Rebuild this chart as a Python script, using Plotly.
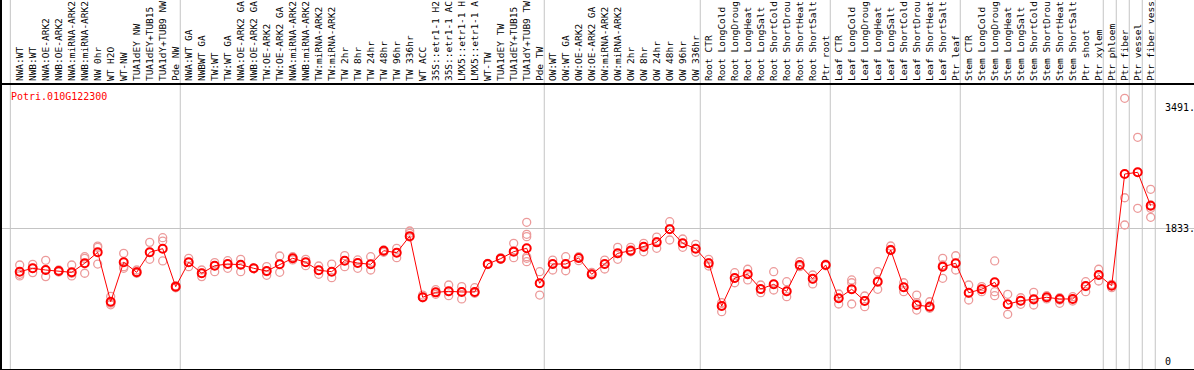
import plotly.graph_objects as go

GENE = "Potri.010G122300"

# sample labels by group (as far as they are readable in the header)
grp_nw = ["NWA:WT", "NWB:WT", "NWA:OE-ARK2", "NWB:OE-ARK2", "NWA:miRNA-ARK2", "NWB:miRNA-ARK2",
          "NW 0hr", "WT H2O", "WT-NW", "TUA1dEY NW", "TUA1dEY+TUB15", "TUA1dY+TUB9 NW", "Pde NW"]
grp_tw = ["NWA:WT GA", "NWBWT GA", "TW:WT", "TW:WT GA", "NWA:OE-ARK2 GA", "NWB:OE-ARK2 GA",
          "TW:OE-ARK2", "TW:OE-ARK2 GA", "NWA:miRNA-ARK2", "NWB:miRNA-ARK2", "TW:miRNA-ARK2",
          "TW:miRNA-ARK2", "TW 2hr", "TW 8hr", "TW 24hr", "TW 48hr", "TW 96hr", "TW 336hr", "WT ACC",
          "35S::etr1-1 H2", "35S::etr1-1 AC", "LMX5::etr1-1 H", "LMX5::etr1-1 A", "WT-TW",
          "TUA1dEY TW", "TUA1dEY+TUB15", "TUA1dY+TUB9 TW", "Pde TW"]
grp_ow = ["OW:WT", "OW:WT GA", "OW:OE-ARK2", "OW:OE-ARK2 GA", "OW:miRNA-ARK2", "OW:miRNA-ARK2",
          "OW 2hr", "OW 8hr", "OW 24hr", "OW 48hr", "OW 96hr", "OW 336hr"]
grp_root = ["Root CTR", "Root LongCold", "Root LongDroug", "Root LongHeat", "Root LongSalt",
            "Root ShortCold", "Root ShortDrou", "Root ShortHeat", "Root ShortSalt", "Ptr root"]
grp_leaf = ["Leaf CTR", "Leaf LongCold", "Leaf LongDroug", "Leaf LongHeat", "Leaf LongSalt",
            "Leaf ShortCold", "Leaf ShortDrou", "Leaf ShortHeat", "Leaf ShortSalt", "Ptr leaf"]
grp_stem = ["Stem CTR", "Stem LongCold", "Stem LongDroug", "Stem LongHeat", "Stem LongSalt",
            "Stem ShortCold", "Stem ShortDrou", "Stem ShortHeat", "Stem ShortSalt", "Ptr shoot", "Ptr xylem"]
grp_phloem = ["Ptr phloem"]
grp_fiber = ["Ptr fiber"]
grp_vessel = ["Ptr vessel"]
grp_fvessel = ["Ptr fiber vess"]

groups = [grp_nw, grp_tw, grp_ow, grp_root, grp_leaf, grp_stem, grp_phloem, grp_fiber, grp_vessel, grp_fvessel]

# mean expression per sample
mean_nw = [1237, 1283, 1260, 1246, 1228, 1352, 1503, 824, 1366, 1228, 1503, 1553, 1031]
mean_tw = [1366, 1215, 1319, 1342, 1333, 1283, 1246, 1338, 1421, 1366, 1256, 1237, 1388, 1356,
           1338, 1525, 1498, 1725, 885, 953, 967, 958, 958, 1342, 1416, 1512, 1558, 1077]
mean_ow = [1342, 1342, 1425, 1201, 1342, 1489, 1525, 1580, 1640, 1819, 1627, 1553]
mean_root = [1352, 765, 1150, 1201, 999, 1063, 967, 1329, 1141, 1329]
mean_leaf = [871, 995, 834, 1099, 1535, 1022, 779, 756, 1305, 1352]
mean_stem = [948, 995, 1091, 789, 838, 857, 885, 862, 862, 1040, 1191]
mean_ptr = [1044, 2579, 2602, 2143]

# replicate values per sample
rep_nw = [[1329, 1201, 1178], [1338, 1283, 1224], [1393, 1260, 1169], [1260, 1246, 1232],
          [1329, 1215, 1178], [1443, 1420, 1215], [1589, 1571, 1342], [897, 805, 782],
          [1489, 1306, 1283], [1260, 1237, 1215], [1640, 1503, 1407], [1704, 1658, 1384],
          [1045, 1030, 1015]]
rep_tw = [[1420, 1366, 1306], [1260, 1215, 1169], [1361, 1319, 1237], [1388, 1342, 1283],
          [1407, 1333, 1237], [1290, 1283, 1276], [1306, 1237, 1187], [1452, 1338, 1228],
          [1443, 1420, 1398], [1407, 1366, 1319], [1315, 1256, 1201], [1342, 1237, 1155],
          [1457, 1388, 1306], [1398, 1356, 1283], [1443, 1338, 1260], [1535, 1512, 1503],
          [1558, 1498, 1429], [1796, 1764, 1713], [916, 885, 879], [989, 953, 926],
          [1054, 962, 907], [1031, 962, 862], [1017, 953, 940], [1350, 1342, 1335],
          [1429, 1411, 1408], [1627, 1521, 1429], [1915, 1750, 1718, 1443, 1421, 1374],
          [1237, 1077, 916]]
rep_ow = [[1397, 1338, 1260], [1443, 1338, 1250], [1443, 1421, 1388], [1228, 1201, 1191],
          [1397, 1338, 1274], [1572, 1484, 1407], [1572, 1535, 1511], [1627, 1572, 1511],
          [1713, 1649, 1558], [1924, 1823, 1672], [1686, 1627, 1572], [1613, 1558, 1503]]
rep_root = [[1407, 1360, 1315], [811, 765, 687], [1223, 1146, 1085], [1270, 1201, 1123],
            [1054, 995, 948], [1237, 1063, 985], [1099, 962, 893], [1374, 1329, 1305],
            [1191, 1132, 1068], [1340, 1329, 1318]]
rep_leaf = [[930, 871, 793], [1123, 1085, 995, 793], [903, 838, 756], [1237, 1113, 995],
            [1590, 1544, 1525], [1085, 1022, 962], [916, 811, 710], [824, 765, 734],
            [1421, 1329, 1146], [1456, 1352, 1260]]
rep_stem = [[1054, 940, 848], [1031, 999, 962], [1384, 962, 907], [926, 789, 651],
            [879, 834, 789], [953, 848, 779], [907, 879, 862], [879, 848, 802],
            [893, 862, 834], [1099, 1031, 962], [1270, 1191, 1109]]
rep_ptr = [[1063, 1044, 1017], [3619, 2253, 1878], [3083, 2602, 2108], [2369, 2153, 2108, 1984]]

yticks_vals = [3491, 1833, 0]
yticks_text = ["3491.", "1833.", "0"]

# ---- build ----
labels = [s for g in groups for s in g]
means = mean_nw + mean_tw + mean_ow + mean_root + mean_leaf + mean_stem + mean_ptr
reps = rep_nw + rep_tw + rep_ow + rep_root + rep_leaf + rep_stem + rep_ptr
xs = list(range(len(labels)))

rx, ry = [], []
for i, r in enumerate(reps):
    for v in r:
        rx.append(i)
        ry.append(v)

# group boundaries
bounds = [-0.72]
c = 0
for g in groups:
    c += len(g)
    bounds.append(c - 1 + 0.35)

FONT = "DejaVu Sans Mono"
W, H = 1194, 370
ML, MR, MT, MB = 1, 0, 85, 1
PW = W - ML - MR
PH = H - MT - MB
step = 13.0
x0 = -(19.7 - ML) / step
x1 = x0 + PW / step
ky = 0.07278
ymax = (361.7 - MT) / ky
ymin = ymax - PH / ky

fig = go.Figure()
fig.add_trace(go.Scatter(
    x=rx, y=ry, mode="markers",
    marker=dict(symbol="circle-open", size=8, color="#ec9a9a", line=dict(width=1.3, color="#ec9a9a")),
    showlegend=False, hoverinfo="skip", cliponaxis=False))
fig.add_trace(go.Scatter(
    x=xs, y=means, mode="lines+markers",
    line=dict(color="#ff0000", width=1),
    marker=dict(symbol="circle-open", size=8, color="#ff0000", line=dict(width=2, color="#ff0000")),
    showlegend=False, cliponaxis=False))

shapes = []
for b in bounds:
    shapes.append(dict(type="line", xref="x", yref="paper", x0=b, x1=b, y0=0, y1=1 + MT / PH,
                       line=dict(color="#c4c4c4", width=1), layer="below"))
# left border spanning full height
shapes.append(dict(type="line", xref="paper", yref="paper", x0=0, x1=0, y0=-MB / PH, y1=1 + MT / PH,
                   line=dict(color="black", width=2)))

annotations = [dict(text=GENE, xref="paper", yref="paper", x=(9.3 - ML) / PW, y=1 - (96.7 - MT) / PH,
                    xanchor="left", yanchor="middle", showarrow=False,
                    font=dict(family=FONT, size=10, color="#ff0000"))]
for v, t in zip(yticks_vals, yticks_text):
    annotations.append(dict(text=t, xref="paper", yref="y", x=(1163 - ML) / PW, y=v,
                            xanchor="left", yanchor="middle", showarrow=False,
                            font=dict(family=FONT, size=10, color="black")))

fig.update_layout(
    template="none",
    width=W, height=H,
    margin=dict(l=ML, r=MR, t=MT, b=MB, pad=0),
    paper_bgcolor="white", plot_bgcolor="white",
    shapes=shapes, annotations=annotations,
    xaxis=dict(range=[x0, x1], side="top", tickmode="array", tickvals=xs, ticktext=labels,
               tickangle=-90, ticks="", ticklen=0, showgrid=False, zeroline=False, automargin=False,
               showline=True, linecolor="black", linewidth=2, mirror=True,
               tickfont=dict(family=FONT, size=9.5, color="black")),
    yaxis=dict(range=[ymin, ymax], tickmode="array", tickvals=[1833], showticklabels=False,
               ticks="", showgrid=True, gridcolor="#c4c4c4", gridwidth=1, zeroline=False,
               showline=False, automargin=False),
)

fig.write_html("out.html", config={"displayModeBar": False},
               post_script="document.body.style.margin='0';document.body.style.overflow='hidden';")
